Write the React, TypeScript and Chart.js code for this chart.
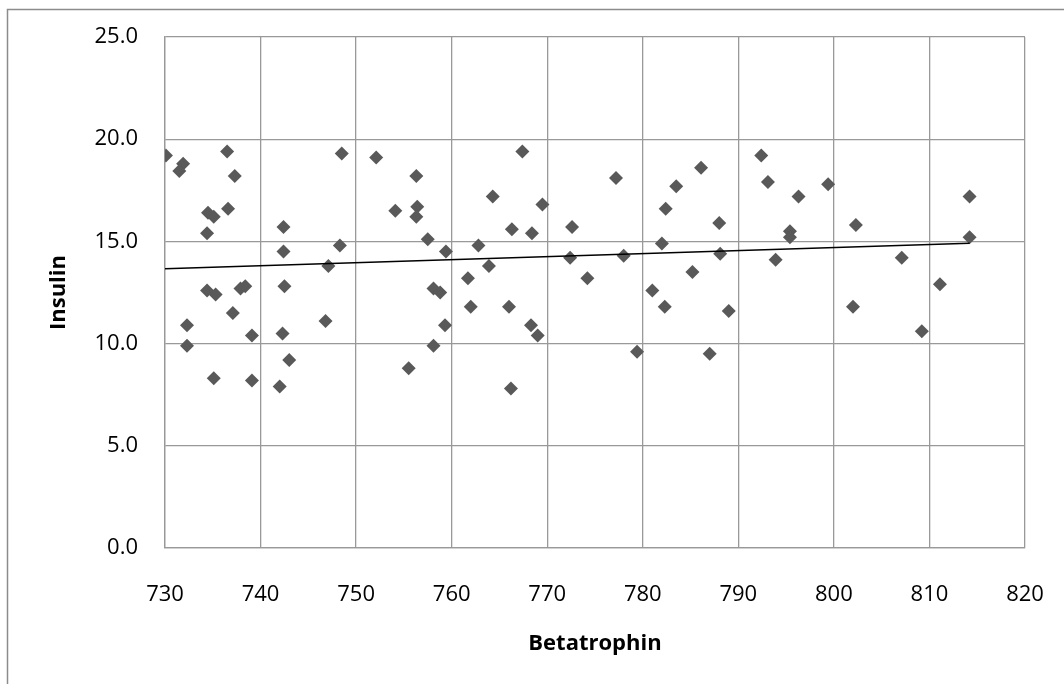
import React, { useEffect, useRef } from "react";
import { Chart, registerables } from "chart.js";

Chart.register(...registerables);

const betatrophin: number[] = [
  730.1, 731.9, 731.5, 736.5, 748.5, 737.3, 734.5, 735.1, 736.6, 734.4,
  742.4, 748.3, 742.4, 747.1, 734.4, 735.3, 737.9, 738.4, 742.5, 737.1,
  746.8, 732.3, 739.1, 742.3, 732.3, 743.0, 735.1, 739.1, 742.0,
  752.1, 767.4, 756.3, 764.3, 769.5, 754.1, 756.4, 756.3, 772.6, 766.3,
  768.4, 757.5, 762.8, 759.4, 772.4, 763.9, 761.7, 758.1, 758.8, 762.0,
  766.0, 759.3, 768.3, 769.0, 758.1, 755.5, 766.2,
  777.2, 786.1, 792.4, 793.1, 783.5, 782.4, 788.0, 782.0, 778.0, 788.1,
  793.9, 774.2, 785.2, 781.0, 782.3, 789.0, 779.4, 787.0,
  799.4, 796.3, 814.2, 802.3, 795.4, 795.4, 814.2, 807.1, 811.1, 802.0, 809.2,
];

const insulin: number[] = [
  19.2, 18.8, 18.45, 19.4, 19.3, 18.2, 16.4, 16.2, 16.6, 15.4,
  15.7, 14.8, 14.5, 13.8, 12.6, 12.4, 12.7, 12.8, 12.8, 11.5,
  11.1, 10.9, 10.4, 10.5, 9.9, 9.2, 8.3, 8.2, 7.9,
  19.1, 19.4, 18.2, 17.2, 16.8, 16.5, 16.7, 16.2, 15.7, 15.6,
  15.4, 15.1, 14.8, 14.5, 14.2, 13.8, 13.2, 12.7, 12.5, 11.8,
  11.8, 10.9, 10.9, 10.4, 9.9, 8.8, 7.8,
  18.1, 18.6, 19.2, 17.9, 17.7, 16.6, 15.9, 14.9, 14.3, 14.4,
  14.1, 13.2, 13.5, 12.6, 11.8, 11.6, 9.6, 9.5,
  17.8, 17.2, 17.2, 15.8, 15.5, 15.2, 15.2, 14.2, 12.9, 11.8, 10.6,
];

const trendX: number[] = [730.0, 814.2];
const trendY: number[] = [13.66, 14.91];

const xTicks: number[] = [730, 740, 750, 760, 770, 780, 790, 800, 810, 820];
const yTicks: number[] = [0, 5, 10, 15, 20, 25];

const xTitle = "Betatrophin";
const yTitle = "Insulin";

const FONT = "'Open Sans', 'Noto Sans', sans-serif";

const framePlugin = {
  id: "frame",
  beforeDraw(chart: any) {
    const ctx = chart.ctx;
    ctx.save();
    ctx.fillStyle = "#ffffff";
    ctx.fillRect(0, 0, chart.width, chart.height);
    ctx.strokeStyle = "#8c8c8c";
    ctx.lineWidth = 1.5;
    ctx.beginPath();
    ctx.moveTo(7.5, chart.height + 2);
    ctx.lineTo(7.5, 9.5);
    ctx.lineTo(chart.width + 2, 9.5);
    ctx.stroke();
    ctx.restore();
  },
};

export default function App() {
  const ref = useRef<HTMLCanvasElement | null>(null);

  useEffect(() => {
    document.body.style.margin = "0";
    const canvas = ref.current;
    if (!canvas) return;
    const points = betatrophin.map((x, i) => ({ x, y: insulin[i] }));
    const trend = trendX.map((x, i) => ({ x, y: trendY[i] }));
    const chart = new Chart(canvas, {
      type: "scatter",
      data: {
        datasets: [
          {
            label: "Insulin",
            data: points,
            pointStyle: "rectRot",
            pointRadius: 7,
            pointHoverRadius: 7,
            backgroundColor: "#595959",
            borderColor: "#595959",
            borderWidth: 0,
            order: 2,
          },
          {
            label: "Trend",
            data: trend,
            type: "line",
            showLine: true,
            borderColor: "#000000",
            borderWidth: 1.5,
            pointRadius: 0,
            fill: false,
            order: 1,
          } as any,
        ],
      },
      options: {
        responsive: false,
        animation: false,
        events: [],
        layout: { padding: { left: 0, top: 37, right: 39, bottom: 0 } },
        plugins: {
          legend: { display: false },
          tooltip: { enabled: false },
        },
        scales: {
          x: {
            type: "linear",
            min: 730,
            max: 820,
            afterBuildTicks: (scale: any) => {
              scale.ticks = xTicks.map((v) => ({ value: v }));
            },
            afterFit: (scale: any) => {
              scale.height = 136;
              scale.paddingLeft = 0;
              scale.paddingRight = 0;
            },
            grid: { color: "#999999", lineWidth: 1.3, drawTicks: false },
            border: { color: "#999999", width: 1.3 },
            ticks: {
              padding: 34,
              color: "#000000",
              font: { family: FONT, size: 22 },
              callback: (v: any) => String(v),
            },
            title: {
              display: true,
              text: xTitle,
              color: "#000000",
              font: { family: FONT, size: 22, weight: "bold" },
              padding: { top: 0, bottom: 27 },
            },
          },
          y: {
            type: "linear",
            min: 0,
            max: 25,
            afterBuildTicks: (scale: any) => {
              scale.ticks = yTicks.map((v) => ({ value: v }));
            },
            afterFit: (scale: any) => {
              scale.width = 165;
              scale.paddingTop = 0;
              scale.paddingBottom = 0;
            },
            grid: { color: "#999999", lineWidth: 1.3, drawTicks: false },
            border: { color: "#999999", width: 1.3 },
            ticks: {
              padding: 27,
              color: "#000000",
              font: { family: FONT, size: 22 },
              callback: (v: any) => Number(v).toFixed(1),
            },
            title: {
              display: true,
              text: yTitle,
              color: "#000000",
              font: { family: FONT, size: 22, weight: "bold" },
              padding: { top: 46, bottom: 0 },
            },
          },
        },
      },
      plugins: [framePlugin],
    });
    return () => chart.destroy();
  }, []);

  return (
    <div style={{ width: 1064, height: 684 }}>
      <canvas ref={ref} width={1064} height={684} style={{ display: "block", width: 1064, height: 684 }} />
    </div>
  );
}
